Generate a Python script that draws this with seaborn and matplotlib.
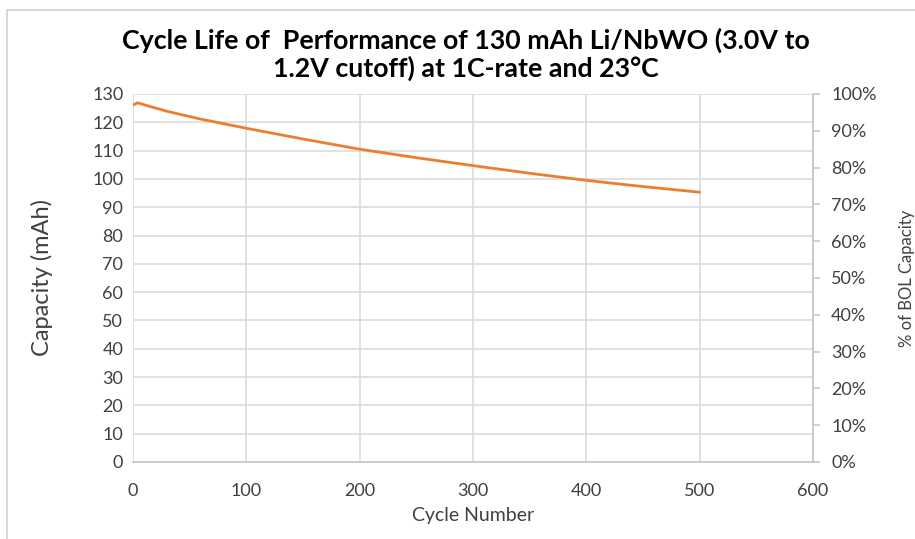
import matplotlib
matplotlib.use("Agg")
import matplotlib.pyplot as plt
from matplotlib.patches import Rectangle
from matplotlib.ticker import PercentFormatter
import seaborn as sns
import pandas as pd

# Capacity fade over cycling
cycles = [0, 4, 15, 30, 59, 100, 150, 200, 250, 300, 350, 400, 450, 500]
capacity_mah = [126.1, 126.9, 125.6, 123.9, 121.2, 117.9, 114.1, 110.5,
                107.5, 104.7, 102.0, 99.5, 97.3, 95.3]

x_ticks = [0, 100, 200, 300, 400, 500, 600]
y_ticks = list(range(0, 131, 10))
pct_ticks = [i / 10 for i in range(11)]

df = pd.DataFrame({"Cycle Number": cycles, "Capacity (mAh)": capacity_mah})

sns.set_style("white")
plt.rcParams["font.family"] = ["Lato", "DejaVu Sans"]

fig = plt.figure(figsize=(9.15, 5.39), dpi=100)
ax = fig.add_axes([133 / 915, 77 / 539, 680 / 915, 368 / 539])

sns.lineplot(data=df, x="Cycle Number", y="Capacity (mAh)", ax=ax,
             color="#ED7D31", linewidth=2.0, zorder=3)

grid_c = "#d9d9d9"
ax.set_xlim(0, 600)
ax.set_ylim(0, 130)
ax.set_xticks(x_ticks)
ax.set_yticks(y_ticks)
ax.grid(True, color=grid_c, linewidth=1.1)
ax.set_axisbelow(True)
for s in ["top", "right", "left"]:
    ax.spines[s].set_visible(False)
ax.spines["bottom"].set_color("#c8c8c8")
ax.spines["bottom"].set_linewidth(1.3)
ax.tick_params(axis="x", length=0, labelsize=13, colors="#404040", pad=15)
ax.tick_params(axis="y", length=0, labelsize=13, colors="#404040", pad=7)
ax.set_xlabel("Cycle Number", fontsize=14, color="#404040", labelpad=6)
ax.set_ylabel("Capacity (mAh)", fontsize=17, color="#404040", labelpad=28)

ax2 = ax.twinx()
ax2.set_ylim(0, 1)
ax2.set_yticks(pct_ticks)
ax2.yaxis.set_major_formatter(PercentFormatter(1.0, decimals=0))
for s in ["top", "left", "bottom"]:
    ax2.spines[s].set_visible(False)
ax2.spines["right"].set_color("#c8c8c8")
ax2.spines["right"].set_linewidth(1.3)
ax2.tick_params(axis="y", direction="out", length=5, width=1.2, color="#c8c8c8",
                labelsize=13, labelcolor="#404040", pad=8)
ax2.set_ylabel("% of BOL Capacity", fontsize=12, color="#404040", labelpad=16)

fig.text(0.509, 0.9, "Cycle Life of  Performance of 130 mAh Li/NbWO (3.0V to\n"
         "1.2V cutoff) at 1C-rate and 23°C", ha="center", va="center",
         fontsize=19.3, fontweight="bold", color="#000000", linespacing=1.12)

# Chart area border
fig.patches.append(Rectangle((7 / 915, -0.1), 1.2, 1.1 - 10 / 539, fill=False,
                             edgecolor="#d0d0d0", linewidth=1.2,
                             transform=fig.transFigure, figure=fig))

fig.savefig("out.png", dpi=100, facecolor="white")
